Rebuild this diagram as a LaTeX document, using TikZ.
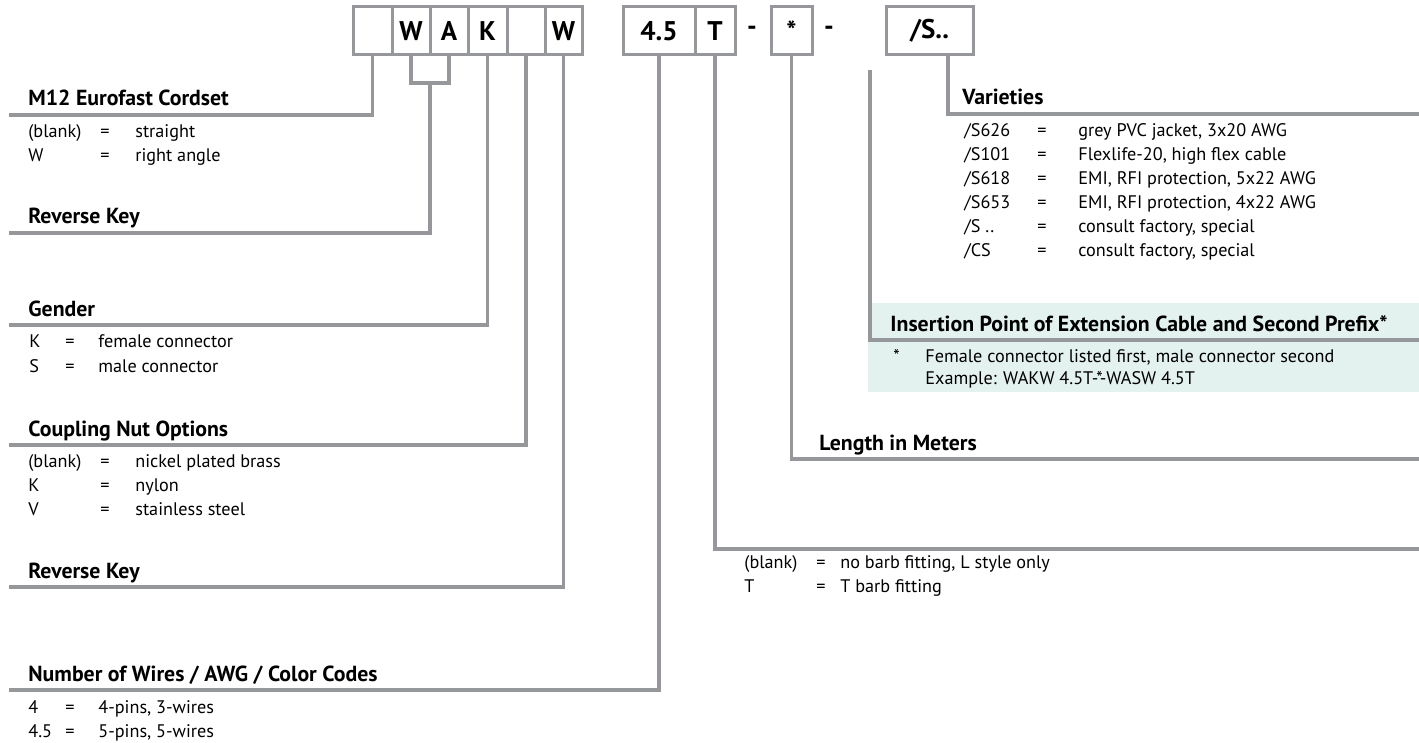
\documentclass[tikz,border=0pt]{standalone}
\usepackage{fontspec}
\setmainfont{PT Sans}
\usetikzlibrary{calc}
\definecolor{linegray}{RGB}{150,151,155}
\definecolor{mint}{RGB}{228,242,239}
\begin{document}
\begin{tikzpicture}[x=0.5pt,y=-0.5pt,
  conn/.style={draw=linegray,line width=1.6pt},
  cell/.style={draw=linegray,line width=1.5pt,minimum height=24pt,inner sep=0pt,font=\bfseries\fontsize{13.5}{15}\selectfont},
  dashtxt/.style={inner sep=0pt,font=\bfseries\fontsize{13.5}{15}\selectfont},
  head/.style={anchor=base west,inner sep=0pt,font=\bfseries\fontsize{10.9}{12}\selectfont},
  body/.style={anchor=base west,inner sep=0pt,font=\fontsize{9.1}{11}\selectfont}]
\useasboundingbox (0,0) rectangle (1419,743);
% mint background
\fill[mint] (868,303) rectangle (1419,392);
% code boxes
\node[cell,minimum width=19.5pt] (c1) at (372.5,31) {};
\node[cell,minimum width=19pt] (c2) at (411,31) {W};
\node[cell,minimum width=19pt] (c3) at (449,31) {A};
\node[cell,minimum width=19.5pt] (c4) at (487.5,31) {K};
\node[cell,minimum width=19pt] (c5) at (526,31) {};
\node[cell,minimum width=18.5pt] (c6) at (563.5,31) {W};
\node[cell,minimum width=36pt] (c7) at (659,31) {4.5};
\node[cell,minimum width=20pt] (c8) at (715,31) {T};
\node[dashtxt] (d1) at (752,31) {-};
\node[cell,minimum width=20.5pt] (c9) at (791.5,31) {*};
\node[dashtxt] (d2) at (829,31) {-};
\node[cell,minimum width=43.5pt] (c10) at (929.5,31) {/S..};
% connectors
\draw[conn] (c1.south) |- (9,115);
\coordinate (bky) at (0,83);
\draw[conn] (c2.south) -- (c2.south |- bky) -- (c3.south |- bky) -- (c3.south);
\coordinate (bkm) at ($(c2.south |- bky)!0.5!(c3.south |- bky)$);
\draw[conn] (bkm) |- (9,233);
\draw[conn] (c4.south) |- (9,325);
\draw[conn] (c5.south) |- (9,445);
\draw[conn] (c6.south) |- (9,587);
\draw[conn] (c7.south) |- (9,690);
\draw[conn] (c8.south) |- (1419,549);
\draw[conn] (c9.south) |- (1419,459);
\coordinate (ins) at (870,70);
\draw[conn] (ins) |- (1419,340);
\draw[conn] ([xshift=9.25pt]c10.south) |- (1419,114);
% left texts
\node[head] (h1) at (28,106) {M12 Eurofast Cordset};
\node[body] (a1) at (28,138) {(blank)};
\node[body] (a1e) at (100,138) {=};
\node[body] (a1d) at (135,138) {straight};
\node[body] (a2) at (28,162) {W};
\node[body] (a2e) at (100,162) {=};
\node[body] (a2d) at (135,162) {right angle};
\node[head] (h2) at (28,224) {Reverse Key};
\node[head] (h3) at (28,316) {Gender};
\node[body] (b1) at (29,348) {K};
\node[body] (b1e) at (65,348) {=};
\node[body] (b1d) at (98,348) {female connector};
\node[body] (b2) at (29,372) {S};
\node[body] (b2e) at (65,372) {=};
\node[body] (b2d) at (98,372) {male connector};
\node[head] (h4) at (28,436) {Coupling Nut Options};
\node[body] (e1) at (28,467) {(blank)};
\node[body] (e1e) at (100,467) {=};
\node[body] (e1d) at (135,467) {nickel plated brass};
\node[body] (e2) at (28,491) {K};
\node[body] (e2e) at (100,491) {=};
\node[body] (e2d) at (135,491) {nylon};
\node[body] (e3) at (28,515) {V};
\node[body] (e3e) at (100,515) {=};
\node[body] (e3d) at (135,515) {stainless steel};
\node[head] (h5) at (28,578) {Reverse Key};
\node[head] (h6) at (28,681) {Number of Wires / AWG / Color Codes};
\node[body] (f1) at (28,713) {4};
\node[body] (f1e) at (65,713) {=};
\node[body] (f1d) at (98,713) {4-pins, 3-wires};
\node[body] (f2) at (28,737) {4.5};
\node[body] (f2e) at (65,737) {=};
\node[body] (f2d) at (98,737) {5-pins, 5-wires};
% right texts
\node[head] (h7) at (962,105) {Varieties};
\node[body] (v1) at (964,137) {/S626};
\node[body] (v1e) at (1037,137) {=};
\node[body] (v1d) at (1078,137) {grey PVC jacket, 3x20 AWG};
\node[body] (v2) at (964,161) {/S101};
\node[body] (v2e) at (1037,161) {=};
\node[body] (v2d) at (1078,161) {Flexlife-20, high flex cable};
\node[body] (v3) at (964,185) {/S618};
\node[body] (v3e) at (1037,185) {=};
\node[body] (v3d) at (1078,185) {EMI, RFI protection, 5x22 AWG};
\node[body] (v4) at (964,209) {/S653};
\node[body] (v4e) at (1037,209) {=};
\node[body] (v4d) at (1078,209) {EMI, RFI protection, 4x22 AWG};
\node[body] (v5) at (964,233) {/S ..};
\node[body] (v5e) at (1037,233) {=};
\node[body] (v5d) at (1078,233) {consult factory, special};
\node[body] (v6) at (964,257) {/CS};
\node[body] (v6e) at (1037,257) {=};
\node[body] (v6d) at (1078,257) {consult factory, special};
\node[head] (h8) at (890,331) {Insertion Point of Extension Cable and Second Prefix*};
\node[body] (i1) at (893,362) {*};
\node[body] (i1d) at (925,362) {Female connector listed first, male connector second};
\node[body] (i2d) at (925,384) {Example: WAKW 4.5T-*-WASW 4.5T};
\node[head] (h9) at (819,450) {Length in Meters};
\node[body] (t1) at (744,568) {(blank)};
\node[body] (t1e) at (816,568) {=};
\node[body] (t1d) at (840,568) {no barb fitting, L style only};
\node[body] (t2) at (744,592) {T};
\node[body] (t2e) at (816,592) {=};
\node[body] (t2d) at (840,592) {T barb fitting};
\end{tikzpicture}
\end{document}
